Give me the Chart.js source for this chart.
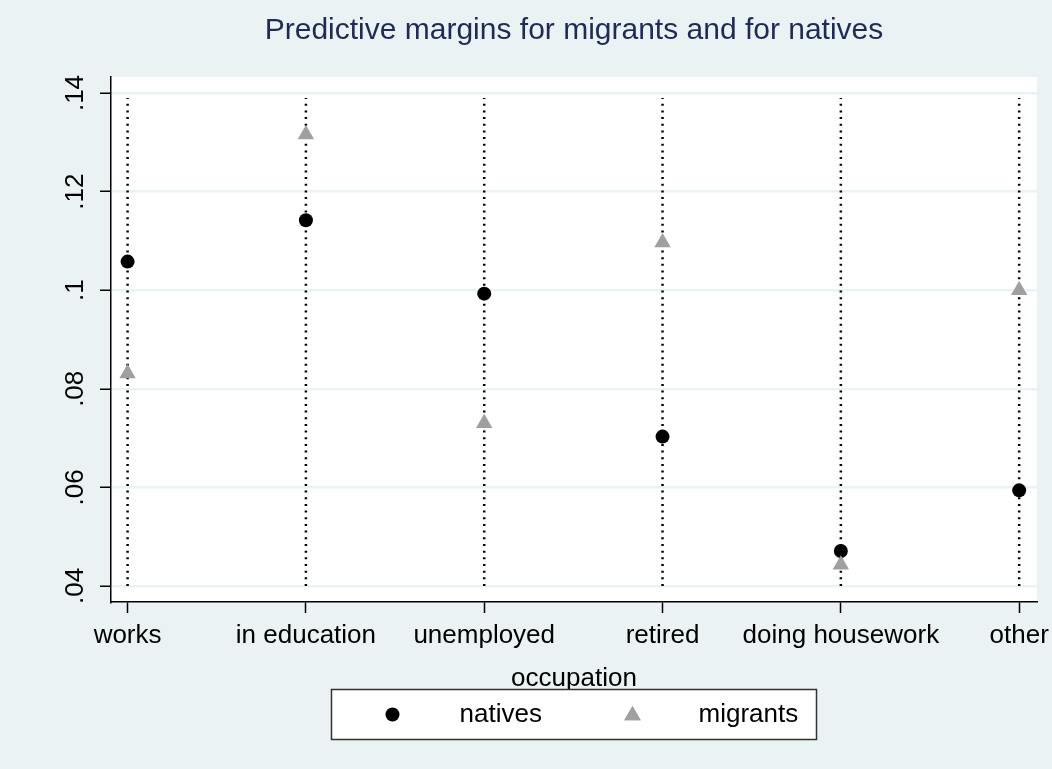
<!DOCTYPE html>
<html>
<head>
<meta charset="utf-8">
<script src="https://cdn.jsdelivr.net/npm/chart.js@4"></script>
<style>
  html, body { margin: 0; padding: 0; background: #EAF2F3; }
  #wrap { width: 1052px; height: 769px; }
</style>
</head>
<body>
<div id="wrap"><canvas id="marginsChart" width="1052" height="769"></canvas></div>
<script>
let categories = ['works', 'in education', 'unemployed', 'retired', 'doing housework', 'other']
let natives_ar = [0.1058, 0.1142, 0.0993, 0.0703, 0.0471, 0.0594]
let migrants_ar = [0.0831, 0.1316, 0.0730, 0.1097, 0.0443, 0.1000]
let yTicks = [0.04, 0.06, 0.08, 0.10, 0.12, 0.14]
let dropLow = 0.04
let dropHigh = 0.139
let chartTitle = 'Predictive margins for migrants and for natives'

const fontFam = "'Liberation Sans', Arial, sans-serif"
const bgColor = '#EAF2F3'

//dotted vertical lines, one per category
const dropLines = categories.map((c, i) => ({
    type: 'line',
    label: 'drop ' + c,
    data: [{x: i, y: dropLow}, {x: i, y: dropHigh}],
    borderColor: 'black',
    borderWidth: 2.5,
    borderDash: [2, 4.67],
    pointRadius: 0,
    fill: false,
    order: 10
}))

//page background + white plot region
const bgPlugin = {
    id: 'bgPlugin',
    beforeDraw(chart) {
        const ctx = chart.ctx
        const a = chart.chartArea
        ctx.save()
        ctx.fillStyle = bgColor
        ctx.fillRect(0, 0, chart.width, chart.height)
        ctx.fillStyle = 'white'
        ctx.fillRect(a.left, a.top, a.right - a.left, a.bottom - a.top)
        ctx.restore()
    }
}

//title centred over the plot, boxed legend below the axis title
const boxLegend = {
    id: 'boxLegend',
    afterDraw(chart) {
        const ctx = chart.ctx
        const a = chart.chartArea
        const cx = (a.left + a.right) / 2
        ctx.save()

        ctx.fillStyle = '#1E2B58'
        ctx.font = '30px ' + fontFam
        ctx.textAlign = 'center'
        ctx.textBaseline = 'middle'
        ctx.fillText(chartTitle, cx, 31)

        const w = 485, h = 50, top = 689.5
        const left = cx - w / 2
        const midY = top + h / 2
        ctx.fillStyle = 'white'
        ctx.fillRect(left, top, w, h)
        ctx.strokeStyle = '#333333'
        ctx.lineWidth = 1.5
        ctx.strokeRect(left, top, w, h)

        Chart.helpers.drawPoint(ctx, {pointStyle: 'circle', radius: 7, borderWidth: 0}, left + 61, midY)
        ctx.fillStyle = 'black'
        ctx.fill()

        ctx.fillStyle = '#A0A0A0'
        Chart.helpers.drawPoint(ctx, {pointStyle: 'triangle', radius: 9.5, borderWidth: 0}, left + 301, midY + 1)
        ctx.fill()

        ctx.fillStyle = 'black'
        ctx.font = '26px ' + fontFam
        ctx.textBaseline = 'middle'
        ctx.textAlign = 'left'
        ctx.fillText('natives', left + 128, midY)
        ctx.fillText('migrants', left + 367, midY)
        ctx.restore()
    }
}

const ctx = document.getElementById('marginsChart').getContext('2d')
const marginsChart = new Chart(ctx, {
    data: {
        datasets: [
            {
                type: 'scatter',
                label: 'migrants',
                data: migrants_ar.map((v, i) => ({x: i, y: v})),
                pointStyle: 'triangle',
                pointRadius: 9.5,
                pointBackgroundColor: '#A0A0A0',
                pointBorderWidth: 0,
                order: 0
            },
            {
                type: 'scatter',
                label: 'natives',
                data: natives_ar.map((v, i) => ({x: i, y: v})),
                pointStyle: 'circle',
                pointRadius: 7,
                pointBackgroundColor: 'black',
                pointBorderWidth: 0,
                order: 1
            },
            ...dropLines
        ]
    },
    options: {
        responsive: false,
        animation: false,
        layout: {
            padding: {left: 0, right: 15, top: 77, bottom: 75}
        },
        plugins: {
            legend: {display: false},
            tooltip: {enabled: false},
            title: {display: false}
        },
        scales: {
            x: {
                type: 'linear',
                min: -0.093,
                max: 5.1,
                afterBuildTicks: (scale) => {
                    scale.ticks = categories.map((c, i) => ({value: i}))
                },
                afterFit: (scale) => {
                    scale.height = 92
                    scale.paddingLeft = 0
                    scale.paddingRight = 0
                },
                ticks: {
                    callback: (v) => categories[v],
                    color: 'black',
                    font: {family: fontFam, size: 26},
                    padding: 7,
                    maxRotation: 0,
                    minRotation: 0,
                    autoSkip: false
                },
                grid: {
                    drawOnChartArea: false,
                    drawTicks: true,
                    tickLength: 11,
                    tickColor: 'black',
                    tickWidth: 1.5
                },
                border: {display: true, color: 'black', width: 1.5},
                title: {
                    display: true,
                    text: 'occupation',
                    color: 'black',
                    font: {family: fontFam, size: 26},
                    padding: {top: 0, bottom: 0}
                }
            },
            y: {
                type: 'linear',
                min: 0.03675,
                max: 0.14325,
                afterBuildTicks: (scale) => {
                    scale.ticks = yTicks.map(v => ({value: v}))
                },
                afterFit: (scale) => {
                    scale.width = 111
                    scale.paddingTop = 0
                    scale.paddingBottom = 0
                },
                ticks: {
                    callback: (v) => String(+v.toFixed(2)).replace(/^0/, ''),
                    color: 'black',
                    font: {family: fontFam, size: 26},
                    minRotation: 90,
                    maxRotation: 90,
                    crossAlign: 'center',
                    padding: 6
                },
                grid: {
                    color: bgColor,
                    lineWidth: 2.5,
                    drawTicks: true,
                    tickLength: 11,
                    tickColor: 'black',
                    tickWidth: 1.5
                },
                border: {display: true, color: 'black', width: 1.5}
            }
        }
    },
    plugins: [bgPlugin, boxLegend]
})
</script>
</body>
</html>
